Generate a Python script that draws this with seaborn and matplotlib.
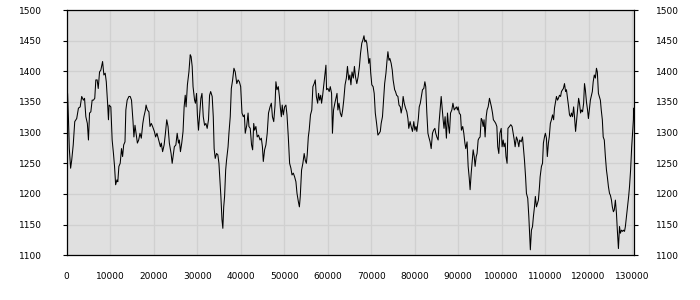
import matplotlib
matplotlib.use("Agg")
import matplotlib.pyplot as plt
import seaborn as sns
import pandas as pd

# ---- data ----
x_seg1 = [0, 200, 400, 600, 900, 1150, 1500, 1850, 2300, 2700,
          3100, 3450, 3850, 4100, 4400, 4750, 5000, 5250, 5550, 5850,
          6150, 6450, 6700, 7000, 7250, 7550, 7850, 8250, 8550, 8850,
          9100, 9400, 9600, 9750, 10150, 10450, 10750, 11000, 11250, 11550,
          11750, 12000, 12300, 12600, 12850, 13100, 13400, 13600, 13900, 14300,
          14600, 14900, 15250, 15450, 15700, 16000, 16250, 16550, 16850, 17150,
          17500, 17750, 18100, 18250, 18550, 18900, 19150, 19450, 19750, 20150,
          20450, 20750, 21150, 21550, 21750, 22050, 22400, 22700, 23000, 23300,
          23600, 24000, 24250, 24550, 24750, 25100, 25400, 25700, 25900, 26150,
          26450, 26750, 27000, 27250, 27450, 27750, 28100, 28400, 28600, 28850,
          29050, 29400, 29600, 29850, 30050, 30300, 30600, 30850, 31100, 31400,
          31700, 32000, 32300, 32600, 32850, 33100, 33450, 33700, 33900, 34150,
          34450, 34750, 35000, 35250, 35450, 35700, 35900, 36100, 36300, 36550,
          36750, 37100, 37300, 37600, 37850, 38150, 38450, 38750, 39100, 39400,
          39700]
y_seg1 = [1353, 1364, 1323, 1274, 1242, 1255, 1280, 1318, 1323, 1340,
          1342, 1359, 1353, 1356, 1326, 1315, 1288, 1332, 1334, 1353,
          1353, 1356, 1386, 1386, 1372, 1399, 1402, 1416, 1394, 1397,
          1383, 1348, 1321, 1345, 1342, 1288, 1266, 1245, 1215, 1223,
          1220, 1245, 1250, 1274, 1261, 1280, 1285, 1337, 1353, 1359,
          1359, 1353, 1318, 1293, 1312, 1296, 1283, 1288, 1299, 1291,
          1315, 1326, 1337, 1345, 1337, 1334, 1310, 1315, 1310, 1302,
          1293, 1299, 1288, 1277, 1283, 1269, 1280, 1299, 1321, 1310,
          1283, 1266, 1250, 1266, 1277, 1280, 1299, 1283, 1288, 1269,
          1283, 1302, 1342, 1361, 1342, 1378, 1399, 1427, 1424, 1408,
          1375, 1353, 1348, 1364, 1329, 1304, 1332, 1356, 1364, 1326,
          1312, 1315, 1307, 1321, 1361, 1367, 1359, 1326, 1274, 1258,
          1266, 1264, 1250, 1220, 1196, 1158, 1144, 1179, 1196, 1239,
          1255, 1277, 1299, 1326, 1372, 1386, 1405, 1399, 1380, 1386,
          1383]

x_seg2 = [40000, 40300, 40600, 40850, 41050, 41400, 41700, 41900, 42200, 42500,
          42750, 43000, 43200, 43500, 43800, 44100, 44450, 44750, 45000, 45200,
          45500, 45800, 46100, 46400, 46750, 47050, 47300, 47600, 47900, 48100,
          48350, 48650, 48900, 49100, 49350, 49550, 49800, 50100, 50400, 50650,
          50950, 51250, 51550, 51800, 52100, 52400, 52700, 52950, 53250, 53500,
          53700, 54000, 54300, 54600, 54850, 55100, 55300, 55550, 55750, 56050,
          56350, 56600, 56900, 57150, 57400, 57700, 57900, 58150, 58400, 58600,
          58850, 59150, 59400, 59600, 59750, 60050, 60350, 60600, 60900, 61100,
          61350, 61650, 61900, 62150, 62350, 62600, 62900, 63200, 63450, 63700,
          64000, 64300, 64550, 64850, 65100, 65350, 65600, 65900, 66150, 66400,
          66700, 67000, 67300, 67550, 67850, 68100, 68350, 68550, 68800, 69000,
          69250, 69450, 69700, 69900, 70150, 70450, 70700, 70950, 71250, 71550,
          71850, 72100, 72300, 72600, 72850, 73100, 73400, 73650, 73850, 74100,
          74300, 74600, 74850, 75050, 75400, 75600, 75850, 76150, 76400, 76700,
          76900, 77150, 77350, 77600, 77900, 78200, 78450, 78650, 78950, 79200,
          79500, 79800, 80050, 80300, 80500, 80850, 81050, 81300, 81600, 81800,
          82100, 82350, 82550, 82800, 83050, 83250, 83550, 83800, 84100, 84350,
          84650, 84850, 85100, 85400, 85600, 85850, 86100, 86300, 86550, 86750,
          87000, 87300, 87550, 87800, 88000, 88250, 88550, 88800, 89100, 89400,
          89600, 89850]
y_seg2 = [1375, 1332, 1326, 1329, 1299, 1312, 1332, 1310, 1307, 1280,
          1272, 1315, 1304, 1310, 1293, 1296, 1288, 1291, 1277, 1253,
          1272, 1280, 1299, 1332, 1342, 1348, 1326, 1318, 1345, 1383,
          1370, 1375, 1359, 1342, 1326, 1345, 1329, 1342, 1345, 1329,
          1293, 1250, 1242, 1231, 1234, 1228, 1220, 1201, 1188, 1179,
          1196, 1239, 1250, 1266, 1255, 1250, 1264, 1293, 1304, 1329,
          1337, 1375, 1380, 1386, 1359, 1348, 1364, 1353, 1361, 1348,
          1361, 1380, 1397, 1410, 1370, 1372, 1367, 1375, 1364, 1299,
          1337, 1348, 1356, 1364, 1337, 1348, 1332, 1326, 1337, 1353,
          1378, 1389, 1408, 1386, 1394, 1378, 1399, 1389, 1408, 1391,
          1380, 1391, 1408, 1429, 1446, 1451, 1458, 1448, 1451, 1446,
          1429, 1413, 1421, 1397, 1378, 1375, 1364, 1332, 1315, 1296,
          1299, 1302, 1315, 1326, 1353, 1380, 1397, 1418, 1432, 1418,
          1421, 1413, 1402, 1386, 1370, 1367, 1361, 1359, 1345, 1342,
          1332, 1342, 1359, 1348, 1340, 1334, 1323, 1307, 1318, 1310,
          1302, 1318, 1304, 1310, 1302, 1323, 1342, 1348, 1361, 1370,
          1372, 1383, 1375, 1332, 1299, 1293, 1285, 1274, 1299, 1304,
          1307, 1299, 1293, 1288, 1315, 1337, 1359, 1342, 1321, 1307,
          1326, 1291, 1332, 1310, 1299, 1332, 1337, 1348, 1337, 1340,
          1342, 1337]

x_seg3 = [90000, 90250, 90550, 90750, 91050, 91300, 91550, 91750, 92050, 92300,
          92550, 92750, 93000, 93200, 93450, 93700, 93900, 94150, 94350, 94600,
          94800, 95050, 95300, 95500, 95750, 95950, 96200, 96450, 96650, 96900,
          97200, 97450, 97650, 97900, 98100, 98400, 98650, 98900, 99100, 99350,
          99600, 99900, 100100, 100350, 100550, 100800, 101000, 101250, 101450, 101800,
          102100, 102400, 102650, 102900, 103100, 103400, 103650, 103950, 104150, 104500,
          104800, 105000, 105250, 105500, 105700, 106000, 106250, 106450, 106600, 106850,
          107100, 107300, 107550, 107750, 108000, 108250, 108450, 108700, 108850, 109150,
          109400, 109600, 109850, 110050, 110300, 110500, 110750, 110950, 111200, 111450,
          111700, 111950, 112150, 112400, 112600, 112850, 113050, 113300, 113550, 113750,
          114000, 114200, 114450, 114700, 114900, 115150, 115400, 115600, 115850, 116050,
          116300, 116550, 116750, 117000, 117250, 117450, 117700, 117900, 118150, 118350,
          118600, 118850, 119050, 119250, 119500, 119750, 119950, 120150, 120400, 120650,
          120850, 121050, 121300, 121550, 121800, 122000, 122250, 122450, 122700, 122900,
          123150, 123350, 123600, 123850, 124100, 124300, 124550, 124800, 125000, 125250,
          125450, 125700, 125900, 126150, 126400, 126600, 126850, 127100, 127300, 127550,
          127800, 128000, 128250, 128450, 128700, 128950, 129200, 129400, 129650, 129900,
          130100, 130300, 130350, 130450]
y_seg3 = [1342, 1332, 1329, 1304, 1310, 1299, 1283, 1274, 1285, 1245,
          1226, 1207, 1234, 1250, 1272, 1261, 1245, 1261, 1266, 1288,
          1291, 1293, 1323, 1321, 1310, 1321, 1293, 1326, 1337, 1342,
          1356, 1348, 1342, 1332, 1321, 1318, 1315, 1310, 1277, 1266,
          1299, 1307, 1277, 1288, 1277, 1283, 1261, 1250, 1307, 1310,
          1313, 1310, 1299, 1288, 1277, 1293, 1288, 1277, 1288, 1285,
          1293, 1277, 1255, 1228, 1201, 1193, 1163, 1130, 1109, 1141,
          1147, 1163, 1179, 1196, 1179, 1185, 1190, 1212, 1228, 1245,
          1250, 1283, 1293, 1299, 1291, 1261, 1283, 1293, 1315, 1321,
          1329, 1321, 1340, 1350, 1359, 1353, 1356, 1361, 1359, 1367,
          1370, 1372, 1380, 1367, 1370, 1356, 1342, 1329, 1326, 1332,
          1326, 1342, 1326, 1302, 1321, 1337, 1356, 1348, 1332, 1337,
          1334, 1348, 1380, 1370, 1350, 1337, 1323, 1337, 1353, 1361,
          1367, 1383, 1394, 1389, 1405, 1399, 1364, 1359, 1353, 1337,
          1321, 1293, 1288, 1261, 1239, 1228, 1212, 1201, 1198, 1190,
          1179, 1171, 1174, 1190, 1168, 1141, 1111, 1147, 1136, 1141,
          1139, 1141, 1139, 1147, 1163, 1179, 1196, 1212, 1239, 1277,
          1299, 1321, 1340, 1330]

x_ticks = list(range(0, 130001, 10000))
y_ticks = [1100, 1150, 1200, 1250, 1300, 1350, 1400, 1450, 1500]

df = pd.DataFrame({"x": x_seg1 + x_seg2 + x_seg3,
                   "y": y_seg1 + y_seg2 + y_seg3})

# ---- styling ----
sns.set_style("white", {"axes.facecolor": "#e0e0e0",
                        "axes.edgecolor": "black",
                        "grid.color": "#d0d0d0"})
plt.rcParams["font.family"] = ["DejaVu Sans"]

W, H = 700, 300
fig = plt.figure(figsize=(7, 3), dpi=100)
fig.patch.set_facecolor("white")
left, right, top, bottom = 66.7, 634.3, 10.0, 255.3
ax = fig.add_axes([left / W, 1 - bottom / H, (right - left) / W, (bottom - top) / H])

sns.lineplot(data=df, x="x", y="y", ax=ax, color="black", linewidth=0.75,
             estimator=None, sort=False)

ax.set_xlim(0, 130500)
ax.set_ylim(1100, 1500)
ax.set_xticks(x_ticks)
ax.set_xticklabels([str(v) for v in x_ticks])
ax.set_yticks(y_ticks)
ax.set_yticklabels([str(v) for v in y_ticks])
ax.set_xlabel("")
ax.set_ylabel("")
ax.grid(True, color="#d0d0d0", linewidth=0.9)
ax.set_axisbelow(True)
for s in ax.spines.values():
    s.set_color("black")
    s.set_linewidth(0.9)

ax.tick_params(axis="x", direction="out", length=3, width=0.8, pad=9,
               labelsize=6.5, colors="black")
ax.tick_params(axis="y", direction="out", length=3, width=0.8, pad=15,
               labelsize=6.5, colors="black", left=True)

ax2 = ax.twinx()
ax2.set_ylim(1100, 1500)
ax2.set_yticks(y_ticks)
ax2.set_yticklabels([str(v) for v in y_ticks])
ax2.tick_params(axis="y", direction="out", length=3, width=0.8, pad=12.5,
                labelsize=6.5, colors="black", right=True)
ax2.grid(False)
for s in ax2.spines.values():
    s.set_visible(False)

fig.savefig("out.png", dpi=100, facecolor="white")
